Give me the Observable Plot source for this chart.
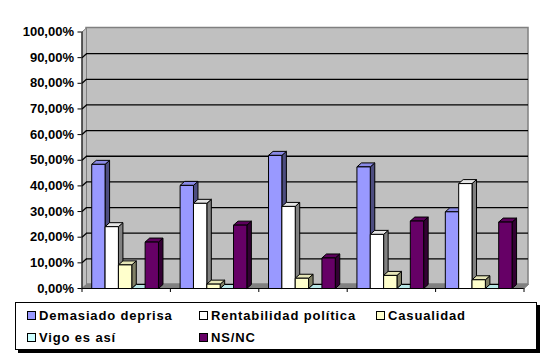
<!DOCTYPE html>
<html>
<head>
<meta charset="utf-8">
<script src="https://cdn.jsdelivr.net/npm/d3@7"></script>
<script src="https://cdn.jsdelivr.net/npm/@observablehq/plot@0.6"></script>
<style>
  html, body { margin: 0; padding: 0; background: #fff; }
  #wrap { position: relative; width: 556px; height: 359px; font-family: "Liberation Sans", Arial, sans-serif; }
  #legend { position: absolute; left: 15px; top: 302px; width: 520px; height: 46px; border: 1px solid #000; background: #fff; box-shadow: 3px 3px 0 #000; }
  .item { position: absolute; font-weight: bold; font-size: 13px; letter-spacing: 0.85px; line-height: 14px; white-space: nowrap; color: #000; }
  .sw { display: inline-block; width: 7px; height: 7px; border: 1px solid #000; margin-right: 3px; vertical-align: 0px; }
</style>
</head>
<body>
<div id="wrap"><div id="chart"></div><div id="legend"></div></div>
<script>
// ---- data ----
const groups = ["1", "2", "3", "4", "5"];
const series = ["Demasiado deprisa", "Rentabilidad política", "Casualidad", "Vigo es así", "NS/NC"];
const demasiadoDeprisa = [48.4, 40.2, 51.9, 47.4, 29.9];
const rentabilidadPolitica = [24.1, 33.2, 32.0, 21.1, 40.9];
const casualidad = [9.2, 1.7, 4.0, 5.1, 3.4];
const vigoEsAsi = [0, 0, 0, 0, 0];
const nsnc = [18.1, 24.7, 11.9, 26.3, 25.9];
const yTicks = [0, 10, 20, 30, 40, 50, 60, 70, 80, 90, 100];

// ---- styling ----
const values = [demasiadoDeprisa, rentabilidadPolitica, casualidad, vigoEsAsi, nsnc];
const frontColors = ["#9999FF", "#FFFFFF", "#FFFFCC", "#CCFFFF", "#660066"];
const sideColors = ["#4D4D80", "#808080", "#808066", "#668080", "#330033"];
const topColors = ["#8A8AE6", "#E6E6E6", "#E6E6B8", "#B8E6E6", "#5C005C"];

const OFF = 0.11, W = 0.151;      // bar offset & width within a group (x units)
const DX = 0.051, DY = 1.56;      // 3D depth offsets (x units, y units)

const faces = [];
let fid = 0;
function poly(pts, fill) {
  const id = fid++;
  pts.concat([pts[0]]).forEach(([x, y]) => faces.push({id, x, y, fill}));
}
groups.forEach((g, gi) => {
  series.forEach((s, k) => {
    const v = values[k][gi];
    const x1 = gi + OFF + k * W, x2 = x1 + W;
    if (v > 0) poly([[x2, 0], [x2, v], [x2 + DX, v + DY], [x2 + DX, DY]], sideColors[k]);
    poly([[x1, v], [x2, v], [x2 + DX, v + DY], [x1 + DX, v + DY]], topColors[k]);
    if (v > 0) poly([[x1, 0], [x2, 0], [x2, v], [x1, v]], frontColors[k]);
  });
});

const n = groups.length;
const floor = [];
[[0, 0], [n, 0], [n + DX, DY], [DX, DY], [0, 0]].forEach(([x, y]) => floor.push({x, y}));
const sideWall = [];
[[0, 0], [0, 100], [DX, 100 + DY], [DX, DY], [0, 0]].forEach(([x, y]) => sideWall.push({x, y}));

const chart = Plot.plot({
  width: 556,
  height: 300,
  marginLeft: 81.5,
  marginRight: 32.5,
  marginTop: 31.5,
  marginBottom: 12,
  style: "font-family: 'Liberation Sans', Arial, sans-serif; font-size: 13px; font-weight: bold; color: #000; background: transparent; overflow: visible;",
  x: {domain: [0, n], axis: null},
  y: {domain: [0, 100], axis: null},
  marks: [
    Plot.rect([0], {x1: DX, x2: n + DX, y1: DY, y2: 100 + DY, fill: "#C0C0C0", stroke: "#808080", strokeWidth: 1.5}),
    Plot.line(sideWall, {x: "x", y: "y", fill: "#C0C0C0", stroke: "#808080", strokeWidth: 1}),
    Plot.ruleY(yTicks.filter(t => t > 0 && t < 100), {y: t => t + DY, x1: DX, x2: n + DX, stroke: "#000", strokeWidth: 1.3}),
    Plot.link(yTicks.filter(t => t > 0 && t < 100), {x1: 0, y1: t => t, x2: DX, y2: t => t + DY, stroke: "#000", strokeWidth: 1.3}),
    Plot.line(floor, {x: "x", y: "y", fill: "#808080", stroke: "#808080", strokeWidth: 1}),
    Plot.line(faces, {x: "x", y: "y", z: "id", fill: "fill", stroke: "#000", strokeWidth: 1, strokeLinejoin: "miter", strokeLinecap: "butt"}),
    Plot.ruleX([0], {y1: 0, y2: 100, stroke: "#000", strokeWidth: 1}),
    Plot.ruleY([0], {x1: 0, x2: n, stroke: "#000", strokeWidth: 1}),
    Plot.axisY({ticks: yTicks, tickSize: 4, tickPadding: 4, label: null,
      tickFormat: d => d.toFixed(2).replace(".", ",") + "%", fontWeight: "bold", fontSize: 13}),
    Plot.axisX({ticks: d3.range(0, n + 1), tickSize: 4, label: null, tickFormat: () => ""})
  ]
});
document.getElementById("chart").appendChild(chart);

// ---- legend ----
const legendPos = [[11, 6], [183, 6], [360, 6], [11, 28], [183, 28]];
const legend = document.getElementById("legend");
series.forEach((s, k) => {
  const el = document.createElement("div");
  el.className = "item";
  el.style.left = legendPos[k][0] + "px";
  el.style.top = legendPos[k][1] + "px";
  el.innerHTML = `<span class="sw" style="background:${frontColors[k]}"></span>${s}`;
  legend.appendChild(el);
});
</script>
</body>
</html>
